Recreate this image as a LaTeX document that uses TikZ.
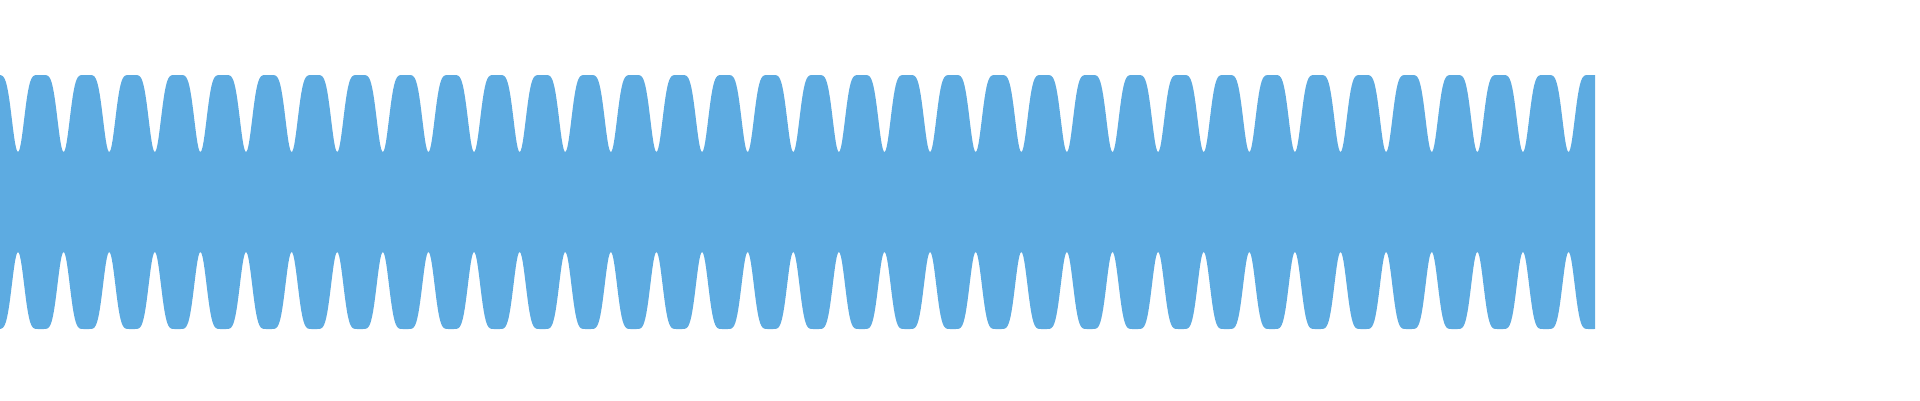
\documentclass[tikz,border=0pt]{standalone}
\begin{document}
\begin{tikzpicture}[x=1pt,y=-1pt]
\definecolor{wave}{RGB}{93,171,225}
\useasboundingbox (0,0) rectangle (1920,400);
\fill[wave] plot[domain=0:1595,samples=1600,variable=\t] (\t,{202-127+77*(abs(cos(3.947*(\t-18))))^6})
  -- plot[domain=1595:0,samples=1600,variable=\t] (\t,{202+127-77*(abs(cos(3.947*(\t-18))))^6}) -- cycle;
\end{tikzpicture}
\end{document}
